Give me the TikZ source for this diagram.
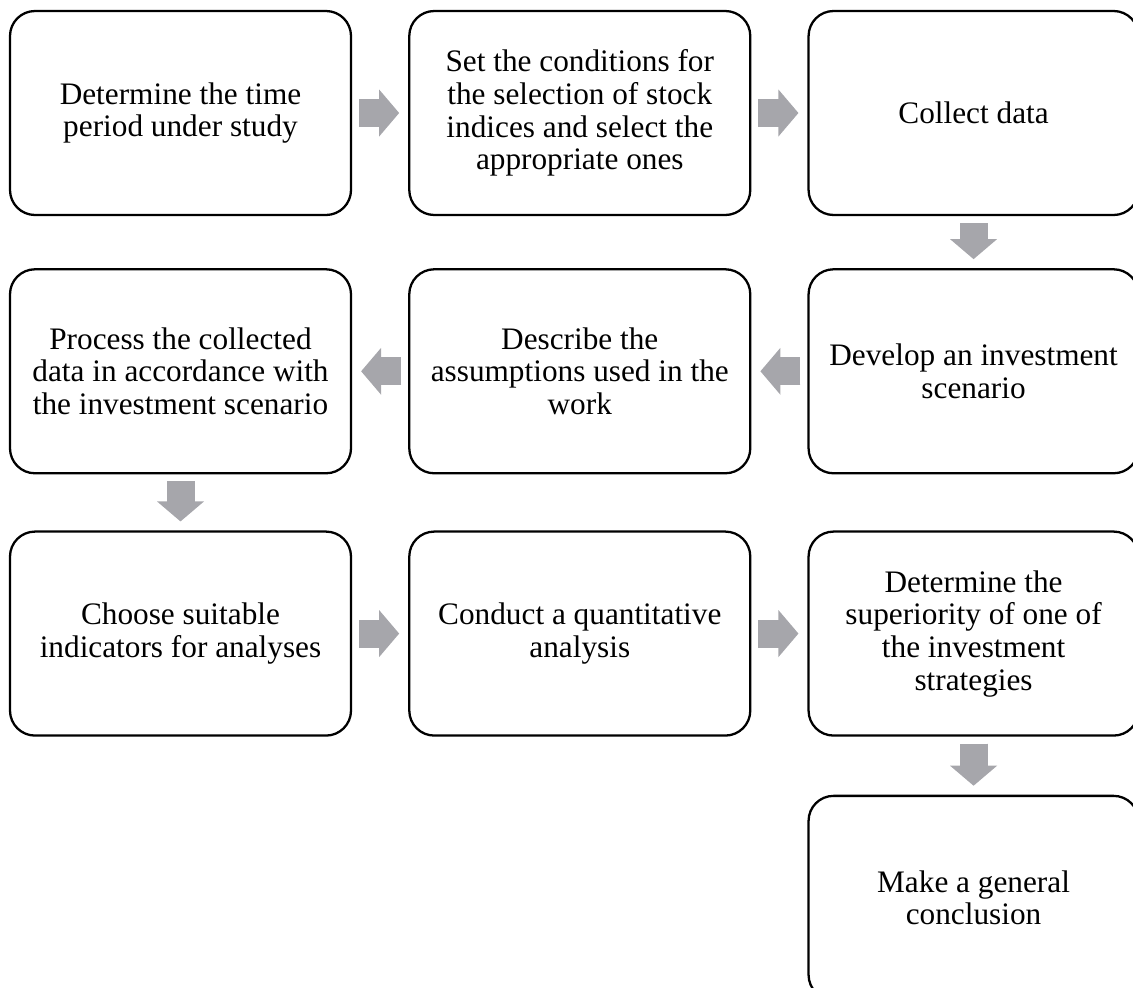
\documentclass[tikz,border=0pt]{standalone}
\usepackage{fontspec}
\setmainfont{Liberation Serif}
\usepackage{tikz}
\usetikzlibrary{positioning, arrows.meta}
\definecolor{arrowgray}{RGB}{166,166,171}

\tikzset{
  stepbox/.style={draw, line width=1.3pt, rounded corners=0.5cm,
    minimum width=6.82cm, minimum height=4.08cm, inner sep=0pt,
    align=center, font=\fontsize{17.8}{18.6}\selectfont},
  flow/.style={draw=arrowgray, line width=0.56cm,
    shorten <=0.14cm, shorten >=0.45cm,
    postaction={draw=arrowgray, -{Triangle[length=0.4cm, width=0.94cm, line width=0pt]},
      shorten <=0.14cm, shorten >=0.18cm}}
}

\begin{document}
\begin{tikzpicture}

% Margens da figura
\clip (0,0) rectangle (22.66,-19.74);

% Primeira linha
\node[stepbox] (s1) at (3.61,-2.26) {Determine the time\\period under study};
\node[stepbox, right=1.12cm of s1] (s2) {Set the conditions for\\the selection of stock\\indices and select the\\appropriate ones};
\node[stepbox, minimum width=6.6cm, right=1.12cm of s2] (s3) {Collect data};

% Segunda linha
\node[stepbox, minimum width=6.6cm, below=1.04cm of s3] (s4) {Develop an investment\\scenario};
\node[stepbox, left=1.12cm of s4] (s5) {Describe the\\assumptions used in the\\work};
\node[stepbox, left=1.12cm of s5] (s6) {Process the collected\\data in accordance with\\the investment scenario};

% Terceira linha
\node[stepbox, below=1.12cm of s6] (s7) {Choose suitable\\indicators for analyses};
\node[stepbox, right=1.12cm of s7] (s8) {Conduct a quantitative\\analysis};
\node[stepbox, minimum width=6.6cm, right=1.12cm of s8] (s9) {Determine the\\superiority of one of\\the investment\\strategies};

% Conclusao
\node[stepbox, minimum width=6.6cm, below=1.16cm of s9] (s10) {Make a general\\conclusion};

% Setas
\draw[flow] (s1) -- (s2);
\draw[flow] (s2) -- (s3);
\draw[flow] (s3) -- (s4);
\draw[flow] (s4) -- (s5);
\draw[flow] (s5) -- (s6);
\draw[flow] (s6) -- (s7);
\draw[flow] (s7) -- (s8);
\draw[flow] (s8) -- (s9);
\draw[flow] (s9) -- (s10);

\end{tikzpicture}
\end{document}
